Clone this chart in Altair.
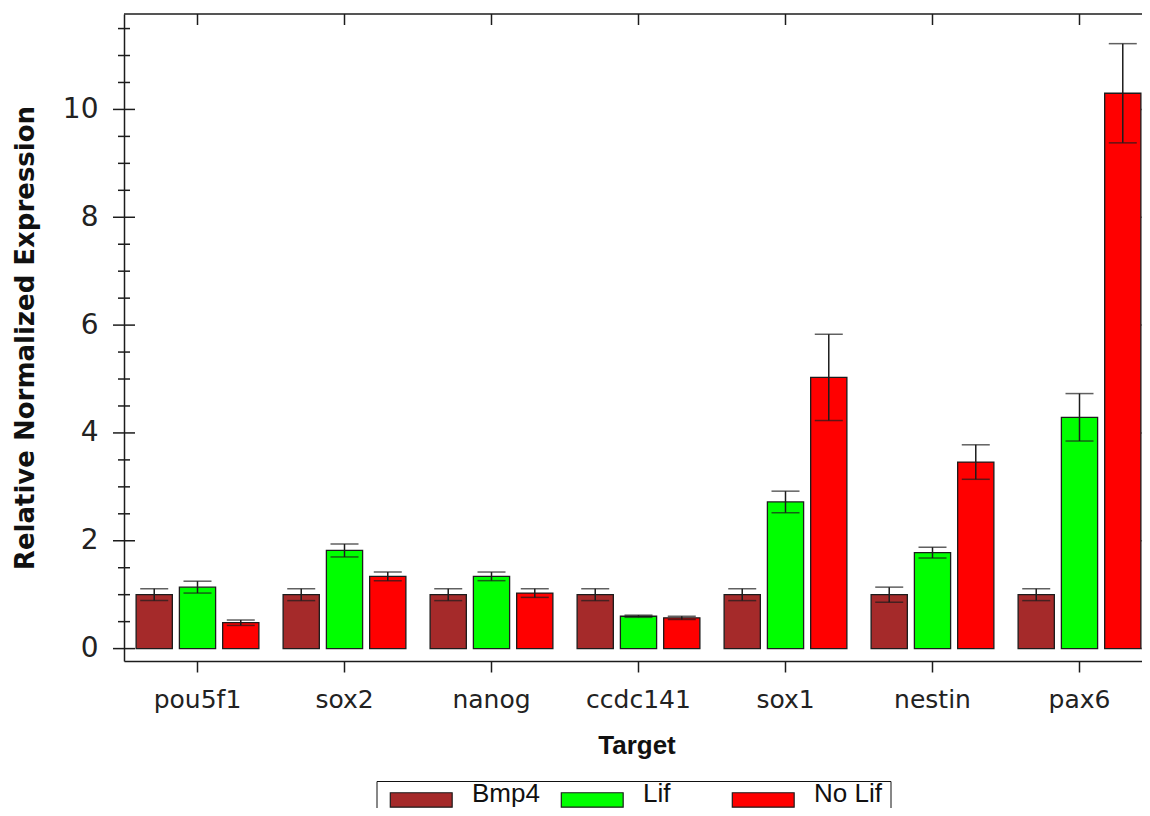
import altair as alt
import pandas as pd

# ---- data ----
targets = ["pou5f1", "sox2", "nanog", "ccdc141", "sox1", "nestin", "pax6"]
conditions = ["Bmp4", "Lif", "No Lif"]
bmp4_mean = [1.00, 1.00, 1.00, 1.00, 1.00, 1.00, 1.00]
bmp4_err = [0.11, 0.11, 0.11, 0.11, 0.11, 0.14, 0.11]
lif_mean = [1.14, 1.82, 1.34, 0.60, 2.72, 1.78, 4.29]
lif_err = [0.11, 0.12, 0.08, 0.02, 0.20, 0.10, 0.44]
nolif_mean = [0.48, 1.34, 1.03, 0.57, 5.03, 3.46, 10.30]
nolif_err = [0.05, 0.08, 0.08, 0.03, 0.80, 0.32, 0.92]
colors = ["#A52A2A", "#00FF00", "#FF0000"]
y_major_ticks = [0, 2, 4, 6, 8, 10]
y_minor_ticks = [0.5, 1, 1.5, 2.5, 3, 3.5, 4.5, 5, 5.5, 6.5, 7, 7.5,
                 8.5, 9, 9.5, 10.5, 11, 11.5]

means = {"Bmp4": bmp4_mean, "Lif": lif_mean, "No Lif": nolif_mean}
errs = {"Bmp4": bmp4_err, "Lif": lif_err, "No Lif": nolif_err}
rows = []
for i, t in enumerate(targets):
    for c in conditions:
        m, e = means[c][i], errs[c][i]
        rows.append({"Target": t, "Condition": c, "mean": m,
                     "lo": m - e, "hi": m + e})
df = pd.DataFrame(rows)
major_df = pd.DataFrame({"v": y_major_ticks})
minor_df = pd.DataFrame({"v": y_minor_ticks})
cat_df = pd.DataFrame({"Target": targets})
frame_df = pd.DataFrame({"frame": ["top"]})

W, H = 1018, 647
yscale = alt.Scale(domain=[-0.23, 11.77], nice=False, zero=False)
xscale = alt.Scale(range=[0, 1029], paddingInner=0, paddingOuter=0)
offscale = alt.Scale(paddingInner=0.163, paddingOuter=0.28)
ink = "#1c1c1c"

x_axis = alt.Axis(
    title="Target", titleFont="Liberation Sans", titleFontSize=26,
    titleFontWeight="bold", titleColor="#111", titleBaseline="alphabetic",
    titleY=92, titleX=512.5, titleAlign="center",
    labelFont="DejaVu Sans", labelFontSize=25, labelColor="#222",
    labelAngle=0, labelBaseline="alphabetic", labelPadding=35,
    tickSize=11, tickColor=ink, tickWidth=1.5,
    domain=True, domainColor=ink, domainWidth=1.5, grid=False)

y_axis = alt.Axis(
    values=y_major_ticks, title="Relative Normalized Expression",
    titleFont="DejaVu Sans", titleFontSize=26, titleFontWeight="bold",
    titleColor="#111", titleAngle=270, titleX=-90.5, titleY=323.5,
    titleBaseline="alphabetic", titleAlign="center",
    labelFont="DejaVu Sans", labelFontSize=28, labelColor="#222",
    labelPadding=26, ticks=False,
    domain=True, domainColor=ink, domainWidth=1.5, grid=False)

X = alt.X("Target:N", sort=targets, scale=xscale, axis=x_axis)
XO = alt.XOffset("Condition:N", sort=conditions, scale=offscale)


def Yq(field):
    return alt.Y(field, scale=yscale, axis=y_axis,
                 title="Relative Normalized Expression")


base = alt.Chart(df)

bars = base.mark_bar(stroke=ink, strokeWidth=1.3).encode(
    x=X, xOffset=XO,
    y=Yq("mean:Q"),
    y2=alt.datum(0),
    color=alt.Color(
        "Condition:N", sort=conditions,
        scale=alt.Scale(domain=conditions, range=colors),
        legend=alt.Legend(
            orient="none", legendX=252.5, legendY=767, direction="horizontal",
            columns=3, title=None, gridAlign="all", columnPadding=15,
            padding=8, labelOffset=61.5, labelBaseline="alphabetic",
            symbolType="M-1,-1.347L7.6,-1.347L7.6,0.653L-1,0.653Z",
            symbolSize=207,
            symbolStrokeColor=ink, symbolStrokeWidth=1.2, symbolOpacity=1,
            strokeColor="#111", fillColor="white",
            labelFont="Liberation Sans", labelFontSize=26, labelColor="#111")),
)

err = base.mark_rule(color=ink, strokeWidth=1.5).encode(
    x=X, xOffset=XO, y=Yq("lo:Q"), y2="hi:Q")
cap_hi = base.mark_tick(color=ink, thickness=1.5, size=28).encode(
    x=X, xOffset=XO, y=Yq("hi:Q"))
cap_lo = base.mark_tick(color=ink, thickness=1.5, size=28).encode(
    x=X, xOffset=XO, y=Yq("lo:Q"))

left_major = alt.Chart(major_df).mark_rule(color=ink, strokeWidth=1.5).encode(
    y=Yq("v:Q"), x=alt.value(-11), x2=alt.value(11))
left_minor = alt.Chart(minor_df).mark_rule(color=ink, strokeWidth=1.5).encode(
    y=Yq("v:Q"), x=alt.value(-6), x2=alt.value(6))
right_major = alt.Chart(major_df).mark_rule(color=ink, strokeWidth=1.5).encode(
    y=Yq("v:Q"), x=alt.value(1017.5), x2=alt.value(1029))
right_minor = alt.Chart(minor_df).mark_rule(color=ink, strokeWidth=1.5).encode(
    y=Yq("v:Q"), x=alt.value(1020), x2=alt.value(1029))
top_ticks = alt.Chart(cat_df).mark_rule(color=ink, strokeWidth=1.5).encode(
    x=X, y=alt.value(0), y2=alt.value(11))
top_line = alt.Chart(frame_df).mark_rule(color=ink, strokeWidth=1.5).encode(
    x=alt.value(0), x2=alt.value(W + 10), y=alt.value(0))

chart = alt.layer(
    bars, err, cap_hi, cap_lo, left_major, left_minor,
    right_major, right_minor, top_ticks, top_line
).properties(
    width=W, height=H,
    autosize=alt.AutoSizeParams(type="none"),
    padding={"left": 116, "top": 6, "right": 0, "bottom": 147},
    background="white",
).configure_view(stroke=None)

chart.save("out.html", embed_options={"renderer": "svg", "actions": False})
